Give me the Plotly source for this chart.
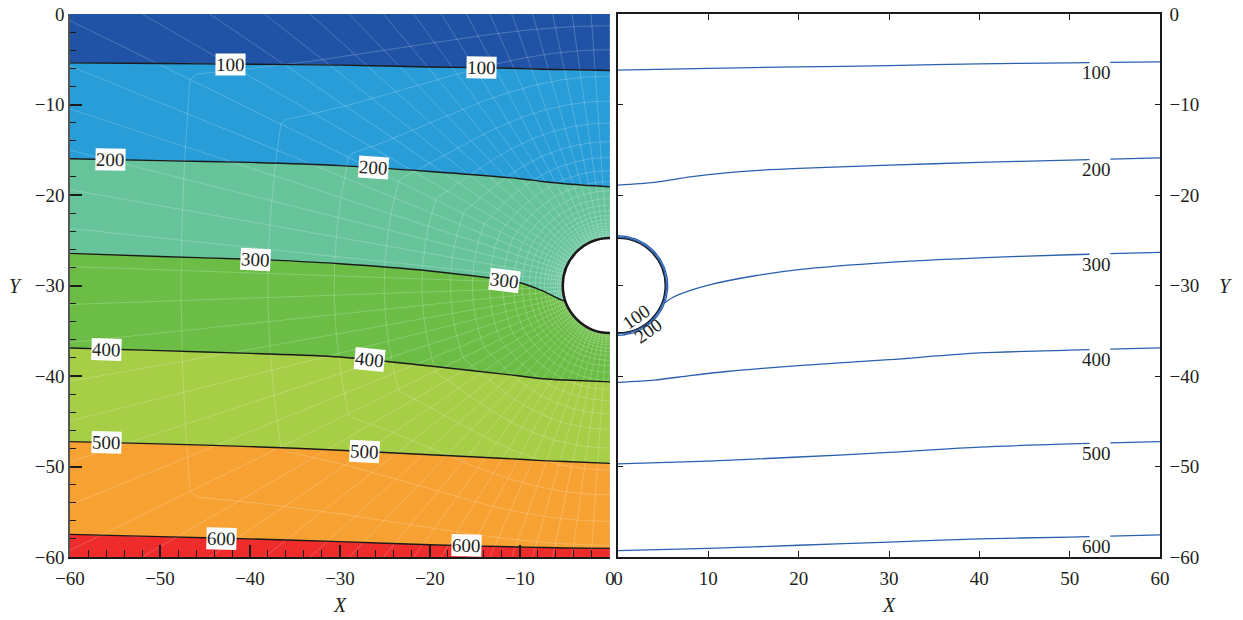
import numpy as np
import plotly.graph_objects as go

# ---- contour levels ----
LEVELS = [100, 200, 300, 400, 500, 600]
BAND_COLORS = ["#2053a5", "#289dd8", "#67c49a", "#6bbd45", "#a7ce47", "#f7a132", "#ee2c2c"]

# ---- left panel: contour lines (y at sampled x) ----
LEFT_X = [-60, -50, -40, -30, -20, -10, -7.5, -5, 0]
LEFT_LINES = {
    100: [-5.4, -5.47, -5.55, -5.65, -5.85, -6.02, -6.1, -6.15, -6.25],
    200: [-16.0, -16.2, -16.4, -16.75, -17.4, -18.2, -18.5, -18.75, -19.1],
    300: [-26.45, -26.8, -27.1, -27.6, -28.4, -29.7, -30.6, -31.75, -32.6],
    400: [-36.9, -37.2, -37.5, -37.9, -38.9, -40.0, -40.3, -40.45, -40.65],
    500: [-47.25, -47.5, -47.8, -48.2, -48.7, -49.2, -49.35, -49.45, -49.65],
    600: [-57.5, -57.75, -58.0, -58.3, -58.65, -58.9, -58.95, -59.0, -59.05],
}
# label x positions on the left panel (two per level)
LEFT_LABEL_X = {
    100: [-42.2, -14.3],
    200: [-55.5, -26.3],
    300: [-39.4, -11.7],
    400: [-56.0, -26.7],
    500: [-55.9, -27.3],
    600: [-43.2, -15.9],
}

# ---- right panel: contour lines ----
RIGHT_LINES = {
    100: ([0, 10, 20, 30, 40, 50, 60], [-6.2, -6.0, -5.85, -5.7, -5.5, -5.4, -5.3]),
    200: ([0, 4, 8, 12, 16, 20, 30, 40, 50, 60],
          [-18.9, -18.6, -18.0, -17.55, -17.25, -17.05, -16.7, -16.4, -16.15, -15.9]),
    300: ([5.1, 6, 8, 10, 15, 20, 30, 40, 50, 60],
          [-31.95, -31.35, -30.55, -29.95, -28.95, -28.25, -27.45, -26.95, -26.6, -26.35]),
    400: ([0, 4, 8, 12, 16, 20, 30, 40, 50, 60],
          [-40.7, -40.45, -39.95, -39.5, -39.15, -38.85, -38.2, -37.45, -37.15, -36.9]),
    500: ([0, 10, 20, 30, 40, 50, 60], [-49.7, -49.4, -48.95, -48.45, -47.85, -47.5, -47.25]),
    600: ([0, 10, 20, 30, 40, 50, 60], [-59.3, -59.05, -58.7, -58.35, -58.0, -57.8, -57.55]),
}
RIGHT_LABEL_X = 53.0
RIGHT_GAP = (52.2, 54.5)
# labels of the lines wrapped round the opening
HOLE_LABELS = [("100", 2.07, -33.45), ("200", 3.36, -35.0)]

# ---- opening ----
HOLE_CX, HOLE_CY, HOLE_R = 0.0, -30.0, 5.25

TEXT = "#231f20"
FONT = "Liberation Serif"
BLUE = "#2a60ae"
FS = 19

fig = go.Figure()

# filled bands (left)
fig.add_trace(go.Scatter(x=[-60, 0], y=[0, 0], mode="lines", line=dict(width=0),
                         xaxis="x", yaxis="y", showlegend=False, hoverinfo="skip"))
for i, lv in enumerate(LEVELS):
    fig.add_trace(go.Scatter(x=LEFT_X, y=LEFT_LINES[lv], mode="lines", fill="tonexty",
                             fillcolor=BAND_COLORS[i], line=dict(width=0, shape="spline", smoothing=0.8),
                             xaxis="x", yaxis="y", showlegend=False, hoverinfo="skip"))
fig.add_trace(go.Scatter(x=[-60, 0], y=[-60, -60], mode="lines", fill="tonexty",
                         fillcolor=BAND_COLORS[-1], line=dict(width=0),
                         xaxis="x", yaxis="y", showlegend=False, hoverinfo="skip"))

# element mesh lines (left): rays from the opening and rings that turn
# from circles near the opening into the outer boundary
def box_dist(phi):
    c, s = np.cos(phi), np.sin(phi)
    ts = []
    if c < -1e-9:
        ts.append((-60 - HOLE_CX) / c)
    if s > 1e-9:
        ts.append((0 - HOLE_CY) / s)
    if s < -1e-9:
        ts.append((-60 - HOLE_CY) / s)
    return min(ts)

def mesh_pt(phi, t):
    d = box_dist(phi)
    w = t ** 3
    rho = (1 - w) * (HOLE_R + t * (30 - HOLE_R)) + w * d
    return HOLE_CX + rho * np.cos(phi), HOLE_CY + rho * np.sin(phi)

mx, my = [], []
g, M = 1.16, 24
ring_t = [(g ** k - 1) / (g ** M - 1) for k in range(0, M + 1)]
for a in np.arange(90, 270.01, 4):
    phi = np.deg2rad(a)
    pts = [mesh_pt(phi, t) for t in np.linspace(0, 1, 40)]
    mx += [p[0] for p in pts] + [None]
    my += [p[1] for p in pts] + [None]
fine = np.deg2rad(np.arange(90, 270.01, 1))
for t in ring_t[1:-1]:
    pts = [mesh_pt(p, t) for p in fine]
    mx += [p[0] for p in pts] + [None]
    my += [p[1] for p in pts] + [None]
fig.add_trace(go.Scatter(x=mx, y=my, mode="lines", line=dict(color="rgba(255,255,255,0.3)", width=0.7),
                         xaxis="x", yaxis="y", showlegend=False, hoverinfo="skip"))

# black contour lines (left)
for lv in LEVELS:
    fig.add_trace(go.Scatter(x=LEFT_X, y=LEFT_LINES[lv], mode="lines",
                             line=dict(color="#1a1a1a", width=1.4, shape="spline", smoothing=0.8),
                             xaxis="x", yaxis="y", showlegend=False, hoverinfo="skip"))

# blue contour lines (right), broken where the label sits
for lv in LEVELS:
    xs, ys = RIGHT_LINES[lv]
    xs = np.array(xs, float)
    ys = np.array(ys, float)
    ga, gb = RIGHT_GAP
    ya, yb = np.interp(ga, xs, ys), np.interp(gb, xs, ys)
    left = xs < ga
    right = xs > gb
    px = list(xs[left]) + [ga, None, gb] + list(xs[right])
    py = list(ys[left]) + [ya, None, yb] + list(ys[right])
    fig.add_trace(go.Scatter(x=px, y=py, mode="lines", connectgaps=False,
                             line=dict(color=BLUE, width=1.3, shape="spline", smoothing=0.8),
                             xaxis="x2", yaxis="y2", showlegend=False, hoverinfo="skip"))

# lines wrapped round the opening (right)
ang = np.deg2rad(np.linspace(90, -90, 121))
for rr in (5.35, 5.5):
    fig.add_trace(go.Scatter(x=HOLE_CX + rr * np.cos(ang), y=HOLE_CY + rr * np.sin(ang), mode="lines",
                             line=dict(color=BLUE, width=1.3),
                             xaxis="x2", yaxis="y2", showlegend=False, hoverinfo="skip"))

# opening outlines
shapes = [
    dict(type="circle", xref="x", yref="y", x0=HOLE_CX - HOLE_R, x1=HOLE_CX + HOLE_R,
         y0=HOLE_CY - HOLE_R, y1=HOLE_CY + HOLE_R, fillcolor="white",
         line=dict(color="#1a1a1a", width=2.6), layer="above"),
    dict(type="circle", xref="x2", yref="y2", x0=HOLE_CX - HOLE_R, x1=HOLE_CX + HOLE_R,
         y0=HOLE_CY - HOLE_R, y1=HOLE_CY + HOLE_R,
         line=dict(color="#1a1a1a", width=2.0), layer="below"),
]

annotations = []
# inline labels, left panel
px_per_x, px_per_y = 540 / 60, 543 / 60
for lv in LEVELS:
    ys = np.array(LEFT_LINES[lv])
    for lx in LEFT_LABEL_X[lv]:
        ly = float(np.interp(lx, LEFT_X, ys))
        d = 1.0
        slope = (np.interp(lx + d, LEFT_X, ys) - np.interp(lx - d, LEFT_X, ys)) / (2 * d)
        angle = -np.degrees(np.arctan(slope * px_per_y / px_per_x))
        annotations.append(dict(x=lx, y=ly, xref="x", yref="y", text=str(lv), showarrow=False,
                                font=dict(family=FONT, size=FS, color=TEXT), bgcolor="white",
                                borderpad=0, textangle=angle))
# labels, right panel
for lv in LEVELS:
    xs, ys = RIGHT_LINES[lv]
    ly = float(np.interp(RIGHT_LABEL_X, xs, ys))
    annotations.append(dict(x=RIGHT_LABEL_X, y=ly, xref="x2", yref="y2", text=str(lv),
                            showarrow=False, yshift=-10,
                            font=dict(family=FONT, size=FS, color=TEXT)))
for txt, hx, hy in HOLE_LABELS:
    annotations.append(dict(x=hx, y=hy, xref="x2", yref="y2", text=txt, showarrow=False,
                            textangle=-35, font=dict(family=FONT, size=FS, color=TEXT)))

# axis titles
for xr in ("x domain", "x2 domain"):
    annotations.append(dict(x=0.5, y=-0.0884, xref=xr, yref="paper", text="<i>X</i>", showarrow=False,
                            xanchor="center", yanchor="middle",
                            font=dict(family=FONT, size=20, color=TEXT)))
annotations.append(dict(x=0, y=0.5, xref="paper", yref="paper", xshift=-55, text="<i>Y</i>",
                        xanchor="center", yanchor="middle", showarrow=False,
                        font=dict(family=FONT, size=20, color=TEXT)))
annotations.append(dict(x=1, y=0.5, xref="paper", yref="paper", xshift=65, text="<i>Y</i>",
                        xanchor="center", yanchor="middle", showarrow=False,
                        font=dict(family=FONT, size=20, color=TEXT)))

tickfont = dict(family=FONT, size=FS, color=TEXT)
common = dict(showgrid=False, zeroline=False, automargin=False, dtick=10, tickfont=tickfont,
              showline=True, linewidth=1.6, tickcolor="#1a1a1a")
fig.update_layout(
    width=1243, height=620,
    margin=dict(l=70, r=83, t=14, b=63, autoexpand=False),
    paper_bgcolor="white", plot_bgcolor="white",
    showlegend=False,
    shapes=shapes,
    annotations=annotations,
    xaxis=dict(domain=[0, 0.4954], range=[-60, 0], anchor="y", linecolor="#1a1a1a",
               ticks="inside", ticklen=12, tickwidth=1.5, ticklabelstandoff=3,
               minor=dict(dtick=2, ticks="inside", ticklen=7, tickwidth=1.3, tickcolor="#1a1a1a"),
               **common),
    yaxis=dict(domain=[0, 1], range=[-60, 0], anchor="x", linecolor="#555555",
               ticks="inside", ticklen=12, tickwidth=1.5,
               minor=dict(dtick=2, ticks="inside", ticklen=6, tickwidth=1.3, tickcolor="#1a1a1a"),
               **common),
    xaxis2=dict(domain=[0.5028, 1], range=[0, 60], anchor="y2", mirror="allticks",
                linecolor="#1a1a1a", ticks="inside", ticklen=6, tickwidth=1.3, ticklabelstandoff=3,
                **common),
    yaxis2=dict(domain=[0, 1], range=[-60, 0], anchor="x2", side="right", mirror="allticks",
                linecolor="#1a1a1a", ticks="inside", ticklen=5, tickwidth=1.3, ticklabelstandoff=4,
                **common),
)

fig.write_html("out.html")
